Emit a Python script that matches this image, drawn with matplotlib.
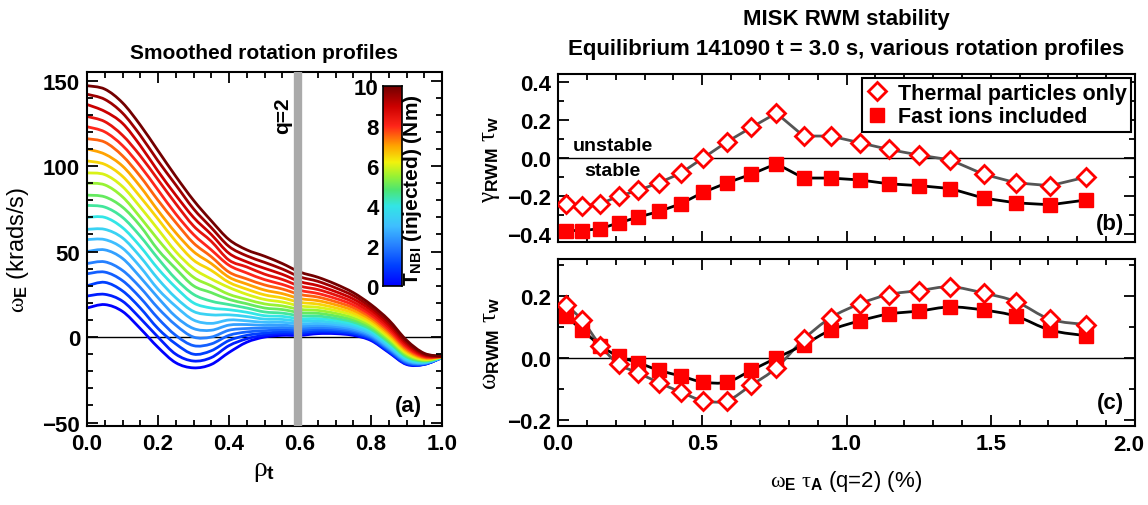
import numpy as np
import matplotlib
matplotlib.use("Agg")
import matplotlib.pyplot as plt
from matplotlib import font_manager as fm
from matplotlib.colors import LinearSegmentedColormap, Normalize
from matplotlib.ticker import MultipleLocator
from matplotlib.lines import Line2D
from matplotlib.path import Path
from matplotlib.patches import PathPatch

# ---------------- data ----------------
rho = [0.00, 0.05, 0.10, 0.15, 0.20, 0.25, 0.30, 0.35, 0.40, 0.45, 0.50,
       0.55, 0.60, 0.65, 0.70, 0.75, 0.80, 0.85, 0.90, 0.95, 1.00]
torque = [0.0, 0.5, 1.0, 1.5, 2.0, 2.5, 3.0, 3.5, 4.0, 4.5, 5.0,
          5.5, 6.0, 6.5, 7.0, 7.5, 8.0, 8.5, 9.0, 9.5, 10.0]
# each row: one rho value, the 21 profiles (lowest torque first)
omega_by_rho = [
    [17, 24, 30, 37, 43, 50, 57, 63, 70, 77, 83, 90, 96, 103, 110, 116, 123, 129, 136, 142, 147],
    [19, 25, 32, 38, 44, 51, 57, 63, 70, 76, 82, 89, 95, 101, 107, 114, 120, 126, 132, 139, 145],
    [15, 21, 27, 33, 39, 46, 52, 58, 64, 70, 76, 82, 88, 94, 100, 106, 112, 118, 125, 131, 137],
    [5, 11, 17, 23, 29, 35, 41, 47, 53, 59, 65, 70, 76, 82, 88, 94, 100, 106, 112, 118, 124],
    [-6, 0, 5, 11, 17, 23, 28, 34, 40, 46, 51, 57, 63, 69, 74, 80, 86, 92, 97, 103, 109],
    [-15, -10, -4, 1, 7, 12, 18, 23, 29, 34, 40, 45, 50, 56, 61, 67, 72, 78, 83, 89, 94],
    [-18, -14, -10, -5, 0, 5, 10, 15, 20, 25, 30, 35, 40, 45, 50, 55, 60, 65, 70, 75, 80],
    [-16, -12, -8, -4, 0, 4, 8, 13, 17, 21, 26, 30, 34, 39, 43, 47, 51, 56, 60, 64, 68],
    [-9, -5, -2, 1, 4, 7, 10, 13, 16, 19, 22, 25, 29, 32, 35, 38, 42, 45, 49, 53, 57],
    [-3, -1, 1, 3, 5, 7.3, 9.5, 12, 14.5, 17, 19.5, 22, 25, 28, 31, 34, 37.5, 41, 44, 47.5, 51],
    [0, 1.1, 2.3, 3.7, 5.2, 6.8, 8.6, 10.5, 12.5, 14.7, 17.0, 19.4, 22.0, 24.7, 27.5, 30.5, 33.6, 36.8, 40.2, 43.7, 47.3],
    [1, 2, 3, 4.3, 5.6, 7, 8.6, 10.3, 12.1, 14, 16.1, 18.2, 20.5, 22.9, 25.4, 28.1, 30.8, 33.7, 36.7, 39.8, 43],
    [1, 1.9, 2.8, 3.9, 5.1, 6.3, 7.7, 9.2, 10.8, 12.5, 14.3, 16.2, 18.2, 20.3, 22.5, 24.9, 27.3, 29.8, 32.4, 35.2, 38],
    [2, 2.8, 3.6, 4.6, 5.6, 6.8, 8, 9.4, 10.8, 12.3, 13.9, 15.6, 17.4, 19.3, 21.3, 23.4, 25.5, 27.8, 30.1, 32.6, 35],
    [2, 2.7, 3.4, 4.3, 5.2, 6.2, 7.3, 8.4, 9.7, 11, 12.4, 13.9, 15.5, 17.1, 18.9, 20.7, 22.6, 24.6, 26.6, 28.8, 31],
    [1, 1.6, 2.2, 3, 3.8, 4.6, 5.6, 6.6, 7.6, 8.8, 10, 11.3, 12.7, 14.1, 15.6, 17.2, 18.8, 20.5, 22.3, 24.2, 26],
    [-2, -1.5, -1, -0.4, 0.3, 1, 1.8, 2.7, 3.6, 4.5, 5.5, 6.6, 7.8, 9, 10.2, 11.5, 12.9, 14.3, 15.9, 17.4, 19],
    [-9, -8.6, -8.1, -7.5, -6.9, -6.3, -5.6, -4.8, -4, -3.1, -2.2, -1.2, -0.2, 0.9, 2, 3.2, 4.4, 5.7, 7.1, 8.5, 10],
    [-16, -15.7, -15.3, -14.9, -14.4, -13.9, -13.4, -12.9, -12.2, -11.6, -10.9, -10.2, -9.4, -8.6, -7.8, -6.9, -5.9, -5, -3.9, -2.9, -1.8],
    [-16, -15.9, -15.8, -15.6, -15.4, -15.2, -15, -14.7, -14.4, -14.1, -13.8, -13.5, -13.1, -12.7, -12.3, -11.9, -11.4, -11, -10.5, -10, -9.5],
    [-12, -12, -12, -12, -12, -11.9, -11.9, -11.8, -11.8, -11.7, -11.7, -11.6, -11.6, -11.5, -11.5, -11.4, -11.4, -11.3, -11.3, -11.2, -11.2],
]
q2_rho = 0.595

omega_tauA = [0.027, 0.084, 0.147, 0.21, 0.277, 0.35, 0.425, 0.503, 0.586, 0.67, 0.757,
              0.851, 0.945, 1.046, 1.146, 1.253, 1.36, 1.475, 1.588, 1.706, 1.83]
gamma_thermal = [-0.24, -0.25, -0.24, -0.20, -0.17, -0.13, -0.08, 0.0, 0.085, 0.16, 0.235,
                 0.115, 0.115, 0.08, 0.045, 0.015, -0.01, -0.085, -0.13, -0.145, -0.10]
gamma_fast = [-0.38, -0.38, -0.37, -0.34, -0.31, -0.28, -0.24, -0.18, -0.13, -0.085, -0.03,
              -0.105, -0.105, -0.115, -0.135, -0.145, -0.16, -0.21, -0.235, -0.245, -0.22]
wrwm_thermal = [0.172, 0.122, 0.04, -0.02, -0.048, -0.08, -0.11, -0.138, -0.138, -0.088, -0.032,
                0.06, 0.13, 0.175, 0.205, 0.218, 0.23, 0.21, 0.182, 0.125, 0.108]
wrwm_fast = [0.135, 0.09, 0.04, 0.005, -0.015, -0.04, -0.058, -0.078, -0.078, -0.04, 0.0,
             0.042, 0.09, 0.12, 0.142, 0.152, 0.165, 0.155, 0.135, 0.09, 0.072]
right_xticks = [0.0, 0.5, 1.0, 1.5, 2.0]
right_xticklabels = ['0.0', '0.5', '1.0', '1.5', '2.0']

# ---------------- style ----------------
names = {f.name for f in fm.fontManager.ttflist}
SANS = 'Liberation Sans Narrow' if 'Liberation Sans Narrow' in names else 'Liberation Sans'
plt.rcParams['font.family'] = [SANS, 'DejaVu Sans']
plt.rcParams['font.weight'] = 'bold'
plt.rcParams['mathtext.fontset'] = 'custom'
plt.rcParams['mathtext.rm'] = SANS + ':bold'
plt.rcParams['mathtext.bf'] = SANS + ':bold'
plt.rcParams['mathtext.it'] = 'Liberation Serif:style=normal:weight=normal'
plt.rcParams['axes.linewidth'] = 1.5
plt.rcParams['axes.unicode_minus'] = True

W, H = 1148, 506
fig = plt.figure(figsize=(W / 100, H / 100), dpi=100)

def px_axes(x0, y0, x1, y1):
    return fig.add_axes([x0 / W, 1 - y1 / H, (x1 - x0) / W, (y1 - y0) / H])

TICK_FS = 16

def style_ax(ax):
    ax.tick_params(which='both', direction='in', top=True, right=True,
                   labelsize=TICK_FS, width=1.3, pad=5)
    ax.tick_params(which='major', length=8)
    ax.tick_params(which='minor', length=4)
    for lab in ax.get_xticklabels() + ax.get_yticklabels():
        lab.set_fontweight('bold')

def smooth_line(ax, x, y, **kw):
    """Draw a smooth curve passing through every (x, y) point (Bezier path)."""
    P = np.column_stack([x, y]).astype(float)
    n = len(P)
    verts = [P[0]]
    codes = [Path.MOVETO]
    for i in range(n - 1):
        p0 = P[i - 1] if i > 0 else P[i]
        p1, p2 = P[i], P[i + 1]
        p3 = P[i + 2] if i + 2 < n else P[i + 1]
        verts += [p1 + (p2 - p0) / 6.0, p2 - (p3 - p1) / 6.0, p2]
        codes += [Path.CURVE4] * 3
    patch = PathPatch(Path(verts, codes), fill=False, capstyle='round',
                      joinstyle='round', **kw)
    ax.add_patch(patch)
    return patch

cmap = LinearSegmentedColormap.from_list('idl', [
    (0.00, (0.00, 0.00, 1.00)),
    (0.10, (0.00, 0.25, 1.00)),
    (0.20, (0.15, 0.50, 1.00)),
    (0.30, (0.25, 0.75, 1.00)),
    (0.40, (0.20, 0.90, 0.90)),
    (0.48, (0.30, 0.90, 0.45)),
    (0.55, (0.60, 0.95, 0.20)),
    (0.62, (0.95, 0.95, 0.05)),
    (0.70, (1.00, 0.65, 0.00)),
    (0.80, (1.00, 0.15, 0.10)),
    (0.90, (0.80, 0.00, 0.00)),
    (1.00, (0.45, 0.00, 0.00)),
])
norm = Normalize(0, 10)

# ---------------- left panel ----------------
axl = px_axes(87, 73, 442, 427)
prof = np.array(omega_by_rho).T
for T, curve in zip(torque, prof):
    smooth_line(axl, rho, curve, edgecolor=cmap(norm(T)), lw=2.0)
axl.axhline(0, color='black', lw=1.0, zorder=0.5)
axl.axvline(q2_rho, color='#aaaaaa', lw=6, zorder=5)
axl.set_xlim(0, 1.0)
axl.set_ylim(-52, 155)
axl.xaxis.set_minor_locator(MultipleLocator(0.05))
axl.yaxis.set_minor_locator(MultipleLocator(10))
axl.set_xticks([0, 0.2, 0.4, 0.6, 0.8, 1.0])
axl.set_xticklabels(['0.0', '0.2', '0.4', '0.6', '0.8', '1.0'])
axl.set_yticks([-50, 0, 50, 100, 150])
axl.set_yticklabels(['\u221250', '0', '50', '100', '150'])
style_ax(axl)
axl.set_title('Smoothed rotation profiles', fontsize=15, fontweight='bold', pad=10)
axl.set_xlabel(r'$\rho_{\mathrm{t}}$', fontsize=20, labelpad=2)
axl.set_ylabel(r'$\omega_{\mathrm{E}}$ (krads/s)', fontsize=17, labelpad=8)
axl.text(0.55, 130, 'q=2', rotation=90, fontsize=15, fontweight='bold',
         ha='center', va='center')
axl.text(0.905, -40, '(a)', fontsize=16, fontweight='bold', ha='center', va='center')

# colorbar inside
cax = px_axes(383, 87, 402, 287)
grad = np.linspace(0, 10, 256).reshape(-1, 1)
cax.imshow(grad, aspect='auto', cmap=cmap, norm=norm, origin='lower',
           extent=[0, 1, 0, 10])
cax.set_xticks([])
cax.set_yticks([0, 2, 4, 6, 8, 10])
cax.tick_params(axis='y', left=True, right=False, labelleft=True, labelright=False,
                labelsize=TICK_FS, length=0, pad=3)
for lab in cax.get_yticklabels():
    lab.set_fontweight('bold')
for s in cax.spines.values():
    s.set_linewidth(1.2)
fig.text(412 / W, 1 - 190 / H, r'T$_{\mathrm{NBI}}$ (injected) (Nm)', rotation=90,
         fontsize=15, fontweight='bold', ha='center', va='center')

# ---------------- right panels ----------------
axb = px_axes(558, 75, 1135, 243)
axc = px_axes(558, 260, 1135, 427)

axb.plot(omega_tauA, gamma_thermal, color='#555555', lw=2, zorder=3)
axb.plot(omega_tauA, gamma_fast, color='black', lw=2, zorder=3)
axb.plot(omega_tauA, gamma_thermal, ls='none', marker='D', ms=9.5, mfc='white',
         mec='red', mew=2, zorder=4)
axb.plot(omega_tauA, gamma_fast, ls='none', marker='s', ms=10, mfc='red',
         mec='red', zorder=4)
axb.axhline(0, color='black', lw=1.0, zorder=1)
axb.set_xlim(0, 2.0)
axb.set_ylim(-0.44, 0.44)
axb.xaxis.set_major_locator(MultipleLocator(0.5))
axb.xaxis.set_minor_locator(MultipleLocator(0.1))
axb.set_yticks([-0.4, -0.2, 0.0, 0.2, 0.4])
axb.set_yticklabels(['\u22120.4', '\u22120.2', '0.0', '0.2', '0.4'])
axb.yaxis.set_minor_locator(MultipleLocator(0.1))
axb.tick_params(labelbottom=False)
style_ax(axb)
axb.set_ylabel(r'$\gamma_{\mathrm{RWM}}\ \tau_{\mathrm{w}}$', fontsize=18, labelpad=4)
axb.text(0.19, 0.065, 'unstable', fontsize=14, fontweight='bold', ha='center', va='center')
axb.text(0.19, -0.065, 'stable', fontsize=14, fontweight='bold', ha='center', va='center')
axb.text(1.915, -0.345, '(b)', fontsize=16, fontweight='bold', ha='center', va='center')
handles = [Line2D([], [], ls='none', marker='D', ms=9.5, mfc='white', mec='red', mew=2),
           Line2D([], [], ls='none', marker='s', ms=10, mfc='red', mec='red')]
leg = axb.legend(handles, ['Thermal particles only', 'Fast ions included'],
                 loc='upper right', frameon=True, fancybox=False,
                 handlelength=1.0, handletextpad=0.45, borderpad=0.2,
                 labelspacing=0.12, borderaxespad=0.2,
                 prop={'weight': 'bold', 'size': 15.5, 'family': SANS})
leg.get_frame().set_edgecolor('black')
leg.get_frame().set_linewidth(1.5)
leg.get_frame().set_alpha(1)

smooth_line(axc, omega_tauA, wrwm_thermal, edgecolor='#555555', lw=2, zorder=3)
smooth_line(axc, omega_tauA, wrwm_fast, edgecolor='black', lw=2, zorder=3)
axc.plot(omega_tauA, wrwm_fast, ls='none', marker='s', ms=10, mfc='red',
         mec='red', zorder=4)
axc.plot(omega_tauA, wrwm_thermal, ls='none', marker='D', ms=9.5, mfc='white',
         mec='red', mew=2, zorder=5)
axc.axhline(0, color='black', lw=1.0, zorder=1)
axc.set_xlim(0, 2.0)
axc.set_ylim(-0.22, 0.32)
axc.set_xticks(right_xticks)
# last label drawn separately so it stays inside the figure
axc.set_xticklabels(right_xticklabels[:-1] + [''])
axc.xaxis.set_minor_locator(MultipleLocator(0.1))
axc.set_yticks([-0.2, 0.0, 0.2])
axc.set_yticklabels(['\u22120.2', '0.0', '0.2'])
axc.yaxis.set_minor_locator(MultipleLocator(0.1))
style_ax(axc)
axc.text(right_xticks[-1] - 0.02, -0.045, right_xticklabels[-1],
         transform=axc.get_xaxis_transform(), fontsize=TICK_FS, fontweight='bold',
         ha='center', va='top')
axc.set_ylabel(r'$\omega_{\mathrm{RWM}}\ \tau_{\mathrm{w}}$', fontsize=18, labelpad=4)
axc.set_xlabel(r'$\omega_{\mathrm{E}}\ \tau_{\mathrm{A}}$ (q=2) (%)', fontsize=16, labelpad=10)
axc.text(1.915, -0.145, '(c)', fontsize=16, fontweight='bold', ha='center', va='center')

fig.text(846 / W, 1 - 20 / H, 'MISK RWM stability', fontsize=16, fontweight='bold',
         ha='center', va='center')
fig.text(846 / W, 1 - 50 / H, 'Equilibrium 141090 t = 3.0 s, various rotation profiles',
         fontsize=16, fontweight='bold', ha='center', va='center')

fig.savefig('out.png', dpi=100)
